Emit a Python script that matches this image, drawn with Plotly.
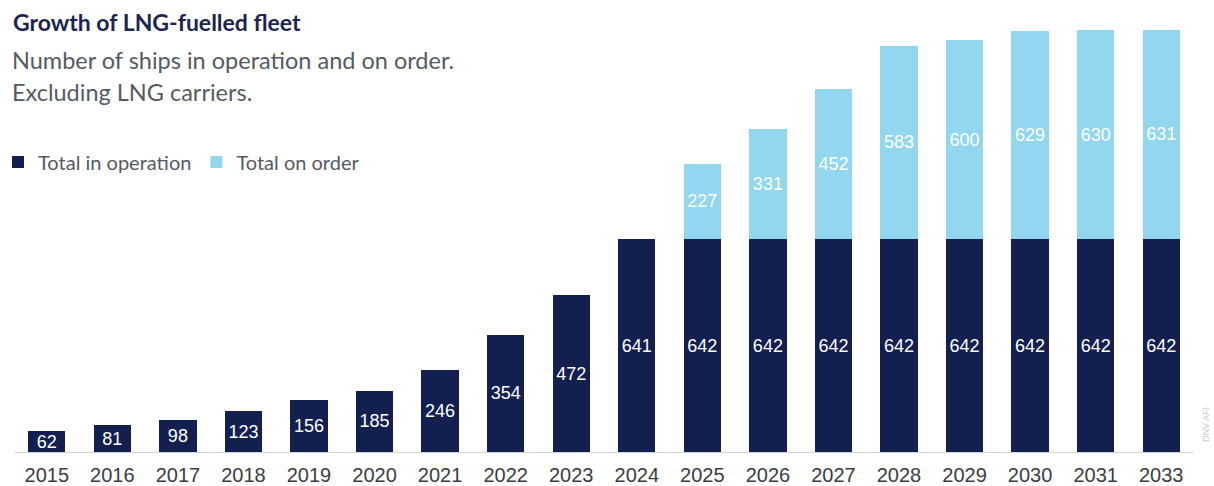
import plotly.graph_objects as go

years = ["2015", "2016", "2017", "2018", "2019", "2020", "2021", "2022", "2023",
         "2024", "2025", "2026", "2027", "2028", "2029", "2030", "2031", "2033"]
in_operation = [62, 81, 98, 123, 156, 185, 246, 354, 472,
                641, 642, 642, 642, 642, 642, 642, 642, 642]
on_order = [None, None, None, None, None, None, None, None, None,
            None, 227, 331, 452, 583, 600, 629, 630, 631]

NAVY = "#13204f"
SKY = "#93d6ef"

W, H = 1214, 486
M_L, M_R, M_T, M_B = 14, 20, 3, 34
PLOT_H = H - M_T - M_B


def py(y_px):
    """Convert a pixel row (from top) to paper y."""
    return (H - M_B - y_px) / PLOT_H


def px(x_px):
    """Convert a pixel column to paper x."""
    return (x_px - M_L) / (W - M_L - M_R)


label_font = dict(family="Liberation Sans, Arial", size=18, color="white")

fig = go.Figure()
fig.add_trace(go.Bar(
    x=years, y=in_operation, name="Total in operation",
    marker=dict(color=NAVY, line=dict(width=0)),
    text=[str(v) for v in in_operation],
    textposition="inside", insidetextanchor="middle", textangle=0,
    insidetextfont=label_font,
    hoverinfo="x+y+name",
))
fig.add_trace(go.Bar(
    x=years, y=on_order, name="Total on order",
    marker=dict(color=SKY, line=dict(width=0)),
    text=["" if v is None else str(v) for v in on_order],
    textposition="inside", insidetextanchor="middle", textangle=0,
    insidetextfont=label_font,
    hoverinfo="x+y+name",
))

annotations = [
    dict(text="<b>Growth of LNG-fuelled fleet</b>", x=px(11), y=py(22),
         font=dict(family="Lato, Noto Sans", size=23, color="#1b2550")),
    dict(text="Number of ships in operation and on order.", x=px(10), y=py(60),
         font=dict(family="Lato, Noto Sans", size=23.5, color="#555a62")),
    dict(text="Excluding LNG carriers.", x=px(10), y=py(92),
         font=dict(family="Lato, Noto Sans", size=23.5, color="#555a62")),
]
for a in annotations:
    a.update(xref="paper", yref="paper", xanchor="left", yanchor="middle",
             showarrow=False)

annotations.append(dict(
    text="DNV AFI", xref="paper", yref="paper", x=px(1206), y=py(425),
    xanchor="center", yanchor="middle", showarrow=False, textangle=-90,
    font=dict(family="Liberation Sans, Arial", size=9, color="#c8c8c8"),
))

fig.update_layout(
    width=W, height=H,
    margin=dict(l=M_L, r=M_R, t=M_T, b=M_B, pad=0, autoexpand=False),
    barmode="stack", bargap=0.43,
    plot_bgcolor="white", paper_bgcolor="white",
    showlegend=True,
    legend=dict(
        orientation="h", x=px(-2), y=py(162), xanchor="left", yanchor="middle",
        font=dict(family="Lato, Noto Sans", size=20, color="#555a62"),
        itemwidth=30, traceorder="normal", bgcolor="rgba(0,0,0,0)",
    ),
    uniformtext=dict(minsize=18, mode="show"),
    xaxis=dict(
        type="category", range=[-0.5, 17.5], automargin=False,
        showline=True, linecolor="#d0d3d8", linewidth=1,
        showgrid=False, ticks="", ticklen=0, ticklabelstandoff=5,
        tickfont=dict(family="Liberation Sans, Arial", size=20, color="#3a3d42"),
        fixedrange=True,
    ),
    yaxis=dict(
        range=[0, 1354], visible=False, showgrid=False, zeroline=False,
        automargin=False, fixedrange=True,
    ),
    annotations=annotations,
)

fig.write_html("out.html")
